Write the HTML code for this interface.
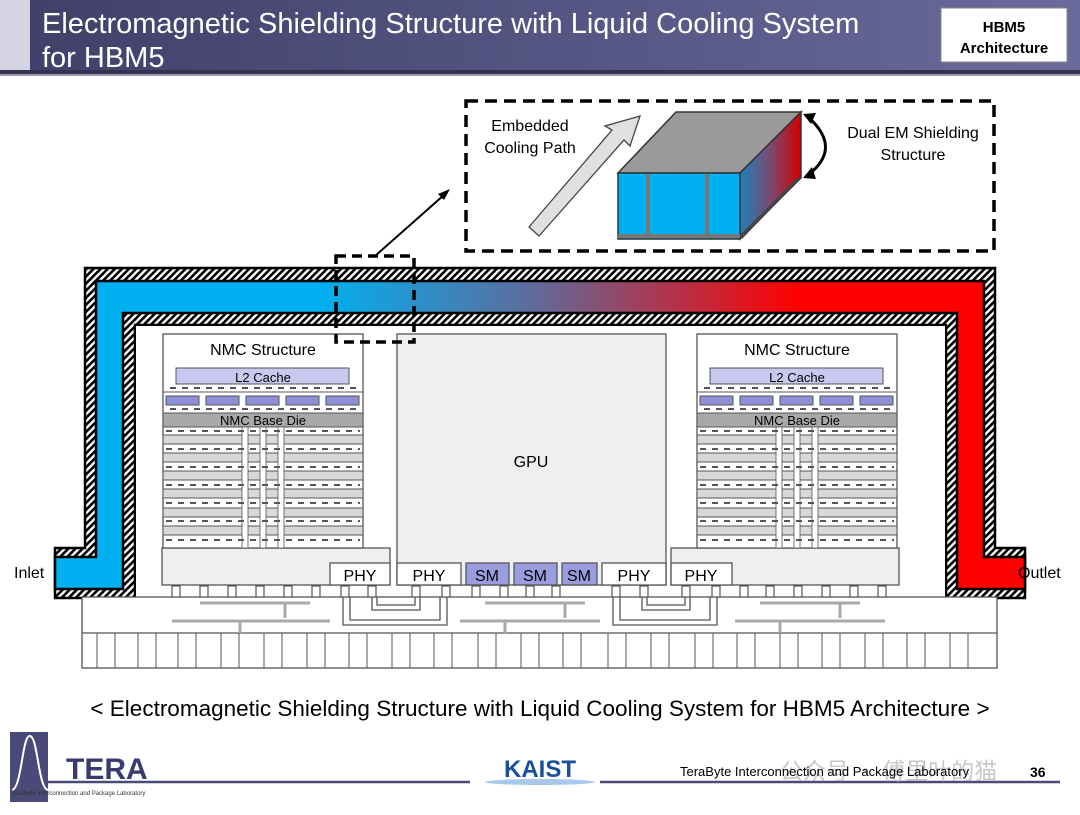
<!DOCTYPE html>
<html><head><meta charset="utf-8"><style>
body{margin:0;width:1080px;height:810px;overflow:hidden;background:#fff;font-family:"Liberation Sans",Arial,sans-serif}
</style></head><body>
<svg width="1080" height="810" viewBox="0 0 1080 810" xmlns="http://www.w3.org/2000/svg" font-family="Liberation Sans, Arial, sans-serif">
<defs>
<linearGradient id="tb" x1="0" x2="1" y1="0" y2="0"><stop offset="0" stop-color="#3f3f68"/><stop offset="1" stop-color="#6a6a9c"/></linearGradient>
<linearGradient id="ch" gradientUnits="userSpaceOnUse" x1="320" x2="800" y1="0" y2="0"><stop offset="0" stop-color="#00b0f0"/><stop offset="0.45" stop-color="#606a9a"/><stop offset="1" stop-color="#ff0000"/></linearGradient>
<linearGradient id="sd" x1="0" x2="1" y1="0" y2="0"><stop offset="0" stop-color="#1e7fb8"/><stop offset="0.5" stop-color="#7a4a70"/><stop offset="1" stop-color="#d00000"/></linearGradient>
<pattern id="hat" width="5" height="5" patternUnits="userSpaceOnUse" patternTransform="rotate(45)"><rect width="5" height="5" fill="#fff"/><rect width="2.6" height="5" fill="#000"/></pattern>
</defs>
<rect x="0" y="0" width="1080" height="70" fill="url(#tb)"/>
<rect x="0" y="0" width="30" height="70" fill="#d4d4e2"/>
<rect x="0" y="70" width="1080" height="4" fill="#33334d"/>
<rect x="0" y="74" width="1080" height="2" fill="#9a9ab8"/>
<text x="42" y="33" font-size="29" fill="#fff">Electromagnetic Shielding Structure with Liquid Cooling System</text>
<text x="42" y="67" font-size="29" fill="#fff">for HBM5</text>
<rect x="941" y="8" width="126" height="54" fill="#fff" stroke="#888"/>
<text x="1004" y="32" font-size="15" font-weight="bold" text-anchor="middle">HBM5</text>
<text x="1004" y="53" font-size="15" font-weight="bold" text-anchor="middle">Architecture</text>

<path d="M55,548 L85,548 L85,268 L995,268 L995,548 L1025,548 L1025,598 L946,598 L946,325 L135,325 L135,598 L55,598 Z" fill="url(#hat)" stroke="#000" stroke-width="2.5"/>
<path d="M55,557 L96,557 L96,281 L984,281 L984,557 L1025,557 L1025,589 L957,589 L957,313 L123,313 L123,589 L55,589 Z" fill="url(#ch)" stroke="#000" stroke-width="2.5"/>
<rect x="136" y="326" width="809" height="271" fill="#fff"/>
<text x="14" y="578" font-size="16">Inlet</text>
<text x="1018" y="578" font-size="16">Outlet</text>

<rect x="82" y="597" width="915" height="71" fill="#fff" stroke="#555" stroke-width="1.3"/>
<line x1="82" y1="633" x2="997" y2="633" stroke="#555" stroke-width="1.3"/>
<g stroke="#555" stroke-width="1">
<line x1="97" y1="633" x2="97" y2="668"/><line x1="115" y1="633" x2="115" y2="668"/><line x1="138" y1="633" x2="138" y2="668"/><line x1="156" y1="633" x2="156" y2="668"/><line x1="178" y1="633" x2="178" y2="668"/><line x1="196" y1="633" x2="196" y2="668"/><line x1="221" y1="633" x2="221" y2="668"/><line x1="239" y1="633" x2="239" y2="668"/><line x1="264" y1="633" x2="264" y2="668"/><line x1="282" y1="633" x2="282" y2="668"/><line x1="307" y1="633" x2="307" y2="668"/><line x1="325" y1="633" x2="325" y2="668"/><line x1="349" y1="633" x2="349" y2="668"/><line x1="367" y1="633" x2="367" y2="668"/><line x1="392" y1="633" x2="392" y2="668"/><line x1="410" y1="633" x2="410" y2="668"/><line x1="434" y1="633" x2="434" y2="668"/><line x1="452" y1="633" x2="452" y2="668"/><line x1="478" y1="633" x2="478" y2="668"/><line x1="496" y1="633" x2="496" y2="668"/><line x1="521" y1="633" x2="521" y2="668"/><line x1="539" y1="633" x2="539" y2="668"/><line x1="563" y1="633" x2="563" y2="668"/><line x1="581" y1="633" x2="581" y2="668"/><line x1="608" y1="633" x2="608" y2="668"/><line x1="626" y1="633" x2="626" y2="668"/><line x1="651" y1="633" x2="651" y2="668"/><line x1="669" y1="633" x2="669" y2="668"/><line x1="695" y1="633" x2="695" y2="668"/><line x1="713" y1="633" x2="713" y2="668"/><line x1="737" y1="633" x2="737" y2="668"/><line x1="755" y1="633" x2="755" y2="668"/><line x1="780" y1="633" x2="780" y2="668"/><line x1="798" y1="633" x2="798" y2="668"/><line x1="822" y1="633" x2="822" y2="668"/><line x1="840" y1="633" x2="840" y2="668"/><line x1="865" y1="633" x2="865" y2="668"/><line x1="883" y1="633" x2="883" y2="668"/><line x1="907" y1="633" x2="907" y2="668"/><line x1="925" y1="633" x2="925" y2="668"/><line x1="950" y1="633" x2="950" y2="668"/><line x1="968" y1="633" x2="968" y2="668"/>
</g>
<g fill="none" stroke="#aaa" stroke-width="3">
<path d="M200,603 H310 M285,603 V618 M172,621 H330 M240,621 V633"/>
<path d="M485,603 H585 M565,603 V618 M460,621 H600 M505,621 V633"/>
<path d="M760,603 H860 M840,603 V618 M735,621 H885 M780,621 V633"/>
</g>
<g fill="none" stroke="#555" stroke-width="1.3">
<path d="M343,597 V625 H447 V597 M350,597 V620 H440 V597 M372,597 V610 H420 V597 M377,597 V605 H415 V597"/>
<path d="M613,597 V625 H717 V597 M620,597 V620 H710 V597 M642,597 V610 H690 V597 M647,597 V605 H685 V597"/>
</g>
<g fill="#fff" stroke="#555" stroke-width="1.2">
<rect x="172" y="586" width="8" height="11"/><rect x="200" y="586" width="8" height="11"/><rect x="228" y="586" width="8" height="11"/><rect x="256" y="586" width="8" height="11"/><rect x="284" y="586" width="8" height="11"/><rect x="312" y="586" width="8" height="11"/><rect x="341" y="586" width="8" height="11"/><rect x="368" y="586" width="8" height="11"/>
<rect x="412" y="586" width="8" height="11"/><rect x="442" y="586" width="8" height="11"/><rect x="472" y="586" width="8" height="11"/><rect x="500" y="586" width="8" height="11"/><rect x="526" y="586" width="8" height="11"/><rect x="552" y="586" width="8" height="11"/><rect x="612" y="586" width="8" height="11"/><rect x="640" y="586" width="8" height="11"/>
<rect x="682" y="586" width="8" height="11"/><rect x="712" y="586" width="8" height="11"/><rect x="740" y="586" width="8" height="11"/><rect x="766" y="586" width="8" height="11"/><rect x="794" y="586" width="8" height="11"/><rect x="822" y="586" width="8" height="11"/><rect x="850" y="586" width="8" height="11"/><rect x="878" y="586" width="8" height="11"/>
</g>

<rect x="397" y="334" width="269" height="251" fill="#efefef" stroke="#555" stroke-width="1.3"/>
<text x="531" y="467" font-size="16" text-anchor="middle">GPU</text>
<g stroke="#555" stroke-width="1.3" font-size="16" text-anchor="middle">
<rect x="397" y="563" width="64" height="22" fill="#fff"/><text x="429" y="581" stroke="none">PHY</text>
<rect x="466" y="563" width="43" height="22" fill="#9b9be0"/><text x="487" y="581" stroke="none">SM</text>
<rect x="514" y="563" width="43" height="22" fill="#9b9be0"/><text x="535" y="581" stroke="none">SM</text>
<rect x="562" y="563" width="35" height="22" fill="#9b9be0"/><text x="579" y="581" stroke="none">SM</text>
<rect x="602" y="563" width="64" height="22" fill="#fff"/><text x="634" y="581" stroke="none">PHY</text>
</g>

<g>
<rect x="162" y="548" width="228" height="37" fill="#efefef" stroke="#555" stroke-width="1.3"/>
<rect x="330" y="563" width="60" height="22" fill="#fff" stroke="#555" stroke-width="1.3"/>
<text x="360" y="581" font-size="16" text-anchor="middle">PHY</text>
<rect x="163" y="334" width="200" height="214" fill="#fff" stroke="#555" stroke-width="1.3"/>
<text x="263" y="355" font-size="16" text-anchor="middle">NMC Structure</text>
<rect x="176" y="368" width="173" height="16" fill="#c9c9f0" stroke="#555"/>
<text x="263" y="382" font-size="13" text-anchor="middle">L2 Cache</text>
<line x1="163" y1="392" x2="363" y2="392" stroke="#555"/>
<g fill="#8f8fd8" stroke="#555"><rect x="166" y="396" width="33" height="9"/><rect x="206" y="396" width="33" height="9"/><rect x="246" y="396" width="33" height="9"/><rect x="286" y="396" width="33" height="9"/><rect x="326" y="396" width="33" height="9"/></g>
<rect x="163" y="413" width="200" height="14" fill="#a8a8a8" stroke="#555"/>
<text x="263" y="425" font-size="13" text-anchor="middle">NMC Base Die</text>
<g fill="#d8d8d8" stroke="#555">
<rect x="163" y="435" width="200" height="9"/><rect x="163" y="453" width="200" height="9"/><rect x="163" y="471" width="200" height="9"/><rect x="163" y="489" width="200" height="9"/><rect x="163" y="508" width="200" height="9"/><rect x="163" y="526" width="200" height="9"/>
</g>
<g fill="#fff" stroke="#555" stroke-width="0.8">
<rect x="242" y="427" width="6" height="121"/><rect x="260" y="427" width="6" height="121"/><rect x="278" y="427" width="6" height="121"/>
</g>
<g stroke="#555" stroke-width="2" stroke-dasharray="6,6">
<line x1="170" y1="388" x2="360" y2="388"/><line x1="170" y1="409" x2="360" y2="409"/><line x1="166" y1="431" x2="360" y2="431"/><line x1="166" y1="449" x2="360" y2="449"/><line x1="166" y1="467" x2="360" y2="467"/><line x1="166" y1="485" x2="360" y2="485"/><line x1="166" y1="503" x2="360" y2="503"/><line x1="166" y1="521" x2="360" y2="521"/><line x1="166" y1="540" x2="360" y2="540"/>
</g>
</g>
<g transform="translate(534,0)">
<rect x="137" y="548" width="228" height="37" fill="#efefef" stroke="#555" stroke-width="1.3"/>
<rect x="137" y="563" width="61" height="22" fill="#fff" stroke="#555" stroke-width="1.3"/>
<text x="167" y="581" font-size="16" text-anchor="middle">PHY</text>
<rect x="163" y="334" width="200" height="214" fill="#fff" stroke="#555" stroke-width="1.3"/>
<text x="263" y="355" font-size="16" text-anchor="middle">NMC Structure</text>
<rect x="176" y="368" width="173" height="16" fill="#c9c9f0" stroke="#555"/>
<text x="263" y="382" font-size="13" text-anchor="middle">L2 Cache</text>
<line x1="163" y1="392" x2="363" y2="392" stroke="#555"/>
<g fill="#8f8fd8" stroke="#555"><rect x="166" y="396" width="33" height="9"/><rect x="206" y="396" width="33" height="9"/><rect x="246" y="396" width="33" height="9"/><rect x="286" y="396" width="33" height="9"/><rect x="326" y="396" width="33" height="9"/></g>
<rect x="163" y="413" width="200" height="14" fill="#a8a8a8" stroke="#555"/>
<text x="263" y="425" font-size="13" text-anchor="middle">NMC Base Die</text>
<g fill="#d8d8d8" stroke="#555">
<rect x="163" y="435" width="200" height="9"/><rect x="163" y="453" width="200" height="9"/><rect x="163" y="471" width="200" height="9"/><rect x="163" y="489" width="200" height="9"/><rect x="163" y="508" width="200" height="9"/><rect x="163" y="526" width="200" height="9"/>
</g>
<g fill="#fff" stroke="#555" stroke-width="0.8">
<rect x="242" y="427" width="6" height="121"/><rect x="260" y="427" width="6" height="121"/><rect x="278" y="427" width="6" height="121"/>
</g>
<g stroke="#555" stroke-width="2" stroke-dasharray="6,6">
<line x1="170" y1="388" x2="360" y2="388"/><line x1="170" y1="409" x2="360" y2="409"/><line x1="166" y1="431" x2="360" y2="431"/><line x1="166" y1="449" x2="360" y2="449"/><line x1="166" y1="467" x2="360" y2="467"/><line x1="166" y1="485" x2="360" y2="485"/><line x1="166" y1="503" x2="360" y2="503"/><line x1="166" y1="521" x2="360" y2="521"/><line x1="166" y1="540" x2="360" y2="540"/>
</g>
</g>

<rect x="336" y="256" width="78" height="86" fill="none" stroke="#000" stroke-width="3.5" stroke-dasharray="10,6"/>
<line x1="375" y1="256" x2="444" y2="195" stroke="#000" stroke-width="2"/>
<polygon points="450,189 438,194 444,200" fill="#000"/>
<rect x="466" y="101" width="528" height="150" fill="none" stroke="#000" stroke-width="3.5" stroke-dasharray="12,7"/>
<text x="530" y="131" font-size="16" text-anchor="middle">Embedded</text>
<text x="530" y="153" font-size="16" text-anchor="middle">Cooling Path</text>
<text x="913" y="138" font-size="16" text-anchor="middle">Dual EM Shielding</text>
<text x="913" y="160" font-size="16" text-anchor="middle">Structure</text>
<polygon points="529,227 612,130 605,126 640,116 630,146 624,140 539,236" fill="#e0e0e0" stroke="#444" stroke-width="1.3"/>
<polygon points="618,173 676,112 801,112 740,173" fill="#9a9a9a" stroke="#333" stroke-width="1.5"/>
<polygon points="740,173 801,112 801,178 740,239" fill="url(#sd)" stroke="#333" stroke-width="1.5"/>
<polygon points="740,235 797,178 801,178 742,239" fill="#444"/>
<rect x="618" y="173" width="122" height="66" fill="#00b0f0" stroke="#333" stroke-width="1.5"/>
<rect x="618" y="234" width="122" height="4" fill="#777"/>
<rect x="646" y="174" width="4" height="61" fill="#777"/>
<rect x="705" y="174" width="4" height="61" fill="#777"/>
<path d="M808,117 Q843,148 808,175" fill="none" stroke="#000" stroke-width="3"/>
<polygon points="803,114 816,113 811,124" fill="#000"/>
<polygon points="803,178 812,167 816,179" fill="#000"/>

<text x="540" y="716" font-size="22.5" text-anchor="middle">&lt; Electromagnetic Shielding Structure with Liquid Cooling System for HBM5 Architecture &gt;</text>

<rect x="10" y="732" width="38" height="70" fill="#4a4a78"/>
<path d="M12,790 C22,788 22,735 30,736 C38,737 38,788 48,790" fill="none" stroke="#fff" stroke-width="2"/>
<text x="66" y="779" font-size="30" font-weight="bold" fill="#3a3a6e">TERA</text>
<line x1="48" y1="782" x2="470" y2="782" stroke="#4a4a78" stroke-width="2.5"/>
<line x1="600" y1="782" x2="1060" y2="782" stroke="#4a4a78" stroke-width="2.5"/>
<text x="12" y="795" font-size="6" fill="#333">TeraByte Interconnection and Package Laboratory</text>
<ellipse cx="540" cy="782" rx="55" ry="3" fill="#a8c8ec"/>
<text x="540" y="777" font-size="24" font-weight="bold" fill="#1a4f9c" text-anchor="middle">KAIST</text>
<text x="780" y="779" font-size="23" fill="#bbb" font-family="Noto Sans CJK SC, sans-serif" opacity="0.8">公众号 · 傅里叶的猫</text>
<text x="680" y="776" font-size="13" fill="#000">TeraByte Interconnection and Package Laboratory</text>
<text x="1030" y="777" font-size="14" font-weight="bold">36</text>
</svg>
</body></html>
